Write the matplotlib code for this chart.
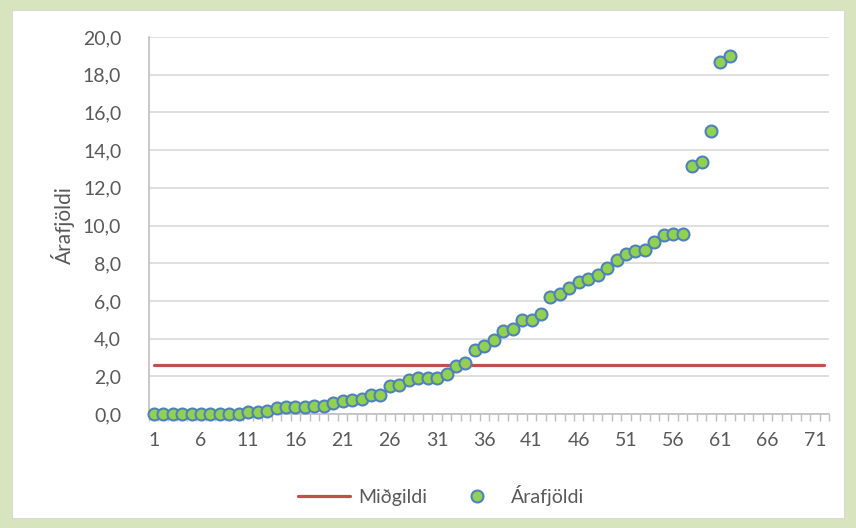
import numpy as np
import matplotlib.pyplot as plt
from matplotlib.ticker import FixedLocator, FuncFormatter

plt.rcParams["font.family"] = ["Lato", "DejaVu Sans"]

# Árafjöldi per record
arafjoldi = [0.02, 0.02, 0.02, 0.02, 0.02, 0.02, 0.02, 0.02, 0.02, 0.02,
             0.10, 0.12, 0.16, 0.30, 0.36, 0.36, 0.37, 0.41, 0.45, 0.57,
             0.70, 0.76, 0.80, 1.00, 1.01, 1.47, 1.53, 1.78, 1.90, 1.93,
             1.93, 2.13, 2.55, 2.71, 3.39, 3.63, 3.92, 4.38, 4.51, 4.98,
             5.00, 5.28, 6.21, 6.37, 6.69, 7.02, 7.16, 7.38, 7.73, 8.19,
             8.51, 8.63, 8.71, 9.15, 9.47, 9.56, 9.57, 13.15, 13.37, 15.02,
             18.65, 19.00]
midgildi = 2.62
n_categories = 72
xtick_labels = list(range(1, 72, 5))

x = np.arange(1, len(arafjoldi) + 1)

fig = plt.figure(figsize=(8.56, 5.28), dpi=100)
fig.patch.set_facecolor('#D7E4BD')
# white chart area inside the green frame
fig.add_artist(plt.Rectangle((12 / 856, 10 / 528), 832 / 856, 508 / 528,
                             transform=fig.transFigure, facecolor='white',
                             edgecolor='#D9D9D9', lw=0.8, zorder=0))

ax = fig.add_axes([149 / 856, 1 - 414 / 528, 680 / 856, 377 / 528])
ax.set_facecolor('white')

ax.plot([1, n_categories], [midgildi, midgildi], color='#C0504D', lw=2.3,
        solid_capstyle='round', label='Miðgildi', zorder=2)
ax.plot(x, arafjoldi, ls='none', marker='o', ms=8.6, mfc='#92D050',
        mec='#4F81BD', mew=1.5, label='Árafjöldi', zorder=3, clip_on=False)

ax.set_xlim(0.5, n_categories + 0.5)
ax.set_ylim(0, 20)
ax.set_yticks(np.arange(0, 21, 2))
ax.yaxis.set_major_formatter(FuncFormatter(lambda v, p: f'{v:.1f}'.replace('.', ',')))
ax.yaxis.grid(True, color='#D9D9D9', lw=1.2)
ax.set_axisbelow(True)

ax.xaxis.set_major_locator(FixedLocator(xtick_labels))
ax.set_xticklabels([str(v) for v in xtick_labels])
ax.xaxis.set_minor_locator(FixedLocator(np.arange(0.5, n_categories + 1, 1)))
ax.tick_params(axis='x', which='major', length=0, pad=13, labelsize=14, labelcolor='#595959')
ax.tick_params(axis='x', which='minor', length=5, width=1, color='#BFBFBF', direction='out')
ax.tick_params(axis='y', length=0, pad=20, labelsize=14, labelcolor='#595959')

for side in ['top', 'right']:
    ax.spines[side].set_visible(False)
ax.spines['left'].set_color('#BFBFBF')
ax.spines['bottom'].set_color('#BFBFBF')
ax.spines['left'].set_linewidth(1.2)
ax.spines['bottom'].set_linewidth(1.2)

ax.set_ylabel('Árafjöldi', fontsize=15, color='#595959', labelpad=6)

fig.legend(*ax.get_legend_handles_labels(), loc='center',
           bbox_to_anchor=(441 / 856, 1 - 495 / 528), ncol=2, frameon=False,
           fontsize=14, labelcolor='#595959', handlelength=2.7, columnspacing=1.2,
           handletextpad=0.4)

fig.savefig('out.png', dpi=100, facecolor=fig.get_facecolor())
